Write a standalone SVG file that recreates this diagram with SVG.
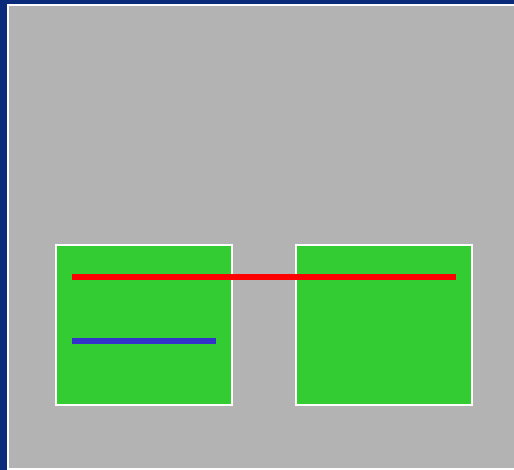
<svg xmlns="http://www.w3.org/2000/svg" width="514" height="470" viewBox="0 0 514 470">
<style>
.box{fill:#33cc33;stroke:#ffffff;stroke-width:2}
.ln{stroke-width:6;fill:none}
</style>
<rect x="0" y="0" width="514" height="470" fill="#0a2a7a"/>
<rect x="8" y="5" width="510" height="464" fill="#b3b3b3" stroke="#ffffff" stroke-width="2"/>
<g id="node-left"><rect class="box" x="56" y="245" width="176" height="160"/></g>
<g id="node-right"><rect class="box" x="296" y="245" width="176" height="160"/></g>
<g id="connectors">
<line class="ln" x1="72" y1="277" x2="456" y2="277" stroke="#ff0000"/>
<line class="ln" x1="72" y1="341" x2="216" y2="341" stroke="#3333cc"/>
</g>
</svg>
